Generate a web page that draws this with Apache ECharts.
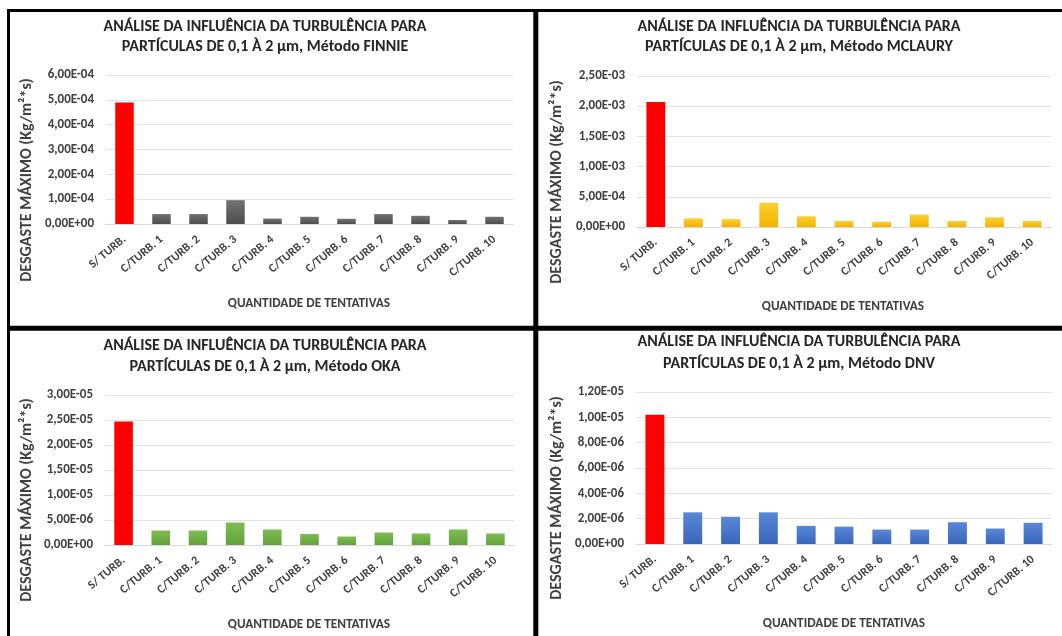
<!DOCTYPE html>
<html>
<head>
<meta charset="utf-8">
<script src="https://cdn.jsdelivr.net/npm/echarts@6/dist/echarts.min.js"></script>
<style>
  html, body { margin: 0; padding: 0; background: #ffffff; }
  #chart { width: 1062px; height: 636px; }
</style>
</head>
<body>
<div id="chart"></div>
<script>
// Categories shared by the four panels
const categories = ['S/ TURB.', 'C/TURB. 1', 'C/TURB. 2', 'C/TURB. 3', 'C/TURB. 4', 'C/TURB. 5',
                    'C/TURB. 6', 'C/TURB. 7', 'C/TURB. 8', 'C/TURB. 9', 'C/TURB. 10'];

// Maximum wear rate per run (Kg/m²*s)
const finnieValues  = [4.89e-4, 4.0e-5, 4.0e-5, 9.6e-5, 2.2e-5, 2.9e-5, 2.1e-5, 4.0e-5, 3.3e-5, 1.6e-5, 2.9e-5];
const mclauryValues = [2.07e-3, 1.44e-4, 1.30e-4, 4.0e-4, 1.77e-4, 1.0e-4, 8.8e-5, 2.05e-4, 1.0e-4, 1.6e-4, 1.0e-4];
const okaValues     = [2.47e-5, 2.9e-6, 2.9e-6, 4.5e-6, 3.1e-6, 2.2e-6, 1.7e-6, 2.5e-6, 2.3e-6, 3.1e-6, 2.3e-6];
const dnvValues     = [1.02e-5, 2.5e-6, 2.15e-6, 2.5e-6, 1.43e-6, 1.37e-6, 1.14e-6, 1.14e-6, 1.72e-6, 1.22e-6, 1.67e-6];

// Y axis tick labels
const finnieTicks  = ['0,00E+00', '1,00E-04', '2,00E-04', '3,00E-04', '4,00E-04', '5,00E-04', '6,00E-04'];
const mclauryTicks = ['0,00E+00', '5,00E-04', '1,00E-03', '1,50E-03', '2,00E-03', '2,50E-03'];
const okaTicks     = ['0,00E+00', '5,00E-06', '1,00E-05', '1,50E-05', '2,00E-05', '2,50E-05', '3,00E-05'];
const dnvTicks     = ['0,00E+00', '2,00E-06', '4,00E-06', '6,00E-06', '8,00E-06', '1,00E-05', '1,20E-05'];

const titleLine1 = 'ANÁLISE DA INFLUÊNCIA DA TURBULÊNCIA PARA';
const methods = ['FINNIE', 'MCLAURY', 'OKA', 'DNV'];
const xName = 'QUANTIDADE DE TENTATIVAS';
const yName = 'DESGASTE MÁXIMO (Kg/m²*s)';

const FONT = 'Carlito, Lato, sans-serif';
const TEXT = '#404040';

const panels = [
  { values: finnieValues,  ticks: finnieTicks,  interval: 1e-4, grid: { left: 106, top: 75,  width: 407, height: 149 },
    colors: ['#727272', '#4d4d4d'], title: { x: 265, y1: 27, y2: 47 }, xn: { x: 309, y: 304 }, yn: { x: 27, y: 180 } },
  { values: mclauryValues, ticks: mclauryTicks, interval: 5e-4, grid: { left: 637, top: 76,  width: 414, height: 151 },
    colors: ['#ffcf2e', '#f2b200'], title: { x: 799, y1: 27, y2: 47 }, xn: { x: 843, y: 307 }, yn: { x: 557, y: 182 } },
  { values: okaValues,     ticks: okaTicks,     interval: 5e-6, grid: { left: 105, top: 395, width: 409, height: 150 },
    colors: ['#7dbd52', '#62a23a'], title: { x: 265, y1: 346, y2: 367 }, xn: { x: 309, y: 625 }, yn: { x: 27, y: 500 } },
  { values: dnvValues,     ticks: dnvTicks,     interval: 2e-6, grid: { left: 636, top: 392, width: 416, height: 152 },
    colors: ['#5a88d8', '#3a66ba'], title: { x: 799, y1: 342, y2: 364 }, xn: { x: 844, y: 624 }, yn: { x: 557, y: 498 } }
];

const grids = [], xAxes = [], yAxes = [], series = [], graphics = [];

panels.forEach((p, k) => {
  grids.push(Object.assign({ containLabel: false }, p.grid));
  xAxes.push({
    type: 'category', gridIndex: k, data: categories,
    axisLine: { lineStyle: { color: '#d9d9d9', width: 1 } },
    axisTick: { show: false },
    axisLabel: { rotate: 40, margin: 14, color: TEXT, fontFamily: FONT, fontWeight: 'bold', fontSize: 12, interval: 0 }
  });
  const ticks = p.ticks, step = p.interval;
  yAxes.push({
    type: 'value', gridIndex: k, min: 0, max: step * (ticks.length - 1), interval: step,
    axisLine: { show: false }, axisTick: { show: false },
    splitLine: { lineStyle: { color: '#e3e3e3', width: 1 } },
    axisLabel: { margin: 12, color: TEXT, fontFamily: FONT, fontWeight: 'bold', fontSize: 13,
                 formatter: v => ticks[Math.round(v / step)] }
  });
  const fill = new echarts.graphic.LinearGradient(0, 0, 0, 1, [
    { offset: 0, color: p.colors[0] }, { offset: 1, color: p.colors[1] }
  ]);
  series.push({
    type: 'bar', xAxisIndex: k, yAxisIndex: k, barWidth: '50%',
    itemStyle: { color: fill },
    data: p.values.map((v, i) => i === 0 ? { value: v, itemStyle: { color: '#ff0000' } } : v)
  });

  // panel title (two lines)
  const titleStyle = { fontFamily: FONT, fontWeight: 'bold', fontSize: 16, fill: '#262626', textAlign: 'center', textVerticalAlign: 'middle' };
  graphics.push({ type: 'text', x: p.title.x, y: p.title.y1, style: Object.assign({ text: titleLine1 }, titleStyle) });
  graphics.push({ type: 'text', x: p.title.x, y: p.title.y2,
                  style: Object.assign({ text: 'PARTÍCULAS DE 0,1 À 2 µm, Método ' + methods[k] }, titleStyle) });
  // axis names
  graphics.push({ type: 'text', x: p.xn.x, y: p.xn.y,
                  style: { text: xName, fontFamily: FONT, fontWeight: 'bold', fontSize: 13.3, fill: TEXT, textAlign: 'center', textVerticalAlign: 'middle' } });
  graphics.push({ type: 'text', x: p.yn.x, y: p.yn.y, rotation: Math.PI / 2,
                  style: { text: yName, fontFamily: FONT, fontWeight: 'bold', fontSize: 16, fill: TEXT, textAlign: 'center', textVerticalAlign: 'middle' } });
});

// black frame around and between the panels
const frame = { stroke: '#000000' };
graphics.push({ type: 'line', shape: { x1: 8.5, y1: 9, x2: 8.5, y2: 636 }, style: Object.assign({ lineWidth: 3 }, frame) });
graphics.push({ type: 'line', shape: { x1: 7, y1: 10.5, x2: 1062, y2: 10.5 }, style: Object.assign({ lineWidth: 3 }, frame) });
graphics.push({ type: 'line', shape: { x1: 535.8, y1: 9, x2: 535.8, y2: 636 }, style: Object.assign({ lineWidth: 5 }, frame) });
graphics.push({ type: 'line', shape: { x1: 7, y1: 328.3, x2: 1062, y2: 328.3 }, style: Object.assign({ lineWidth: 5 }, frame) });

const chart = echarts.init(document.getElementById('chart'), null, { renderer: 'canvas' });
chart.setOption({
  animation: false,
  backgroundColor: '#ffffff',
  grid: grids,
  xAxis: xAxes,
  yAxis: yAxes,
  series: series,
  graphic: graphics
});
</script>
</body>
</html>
